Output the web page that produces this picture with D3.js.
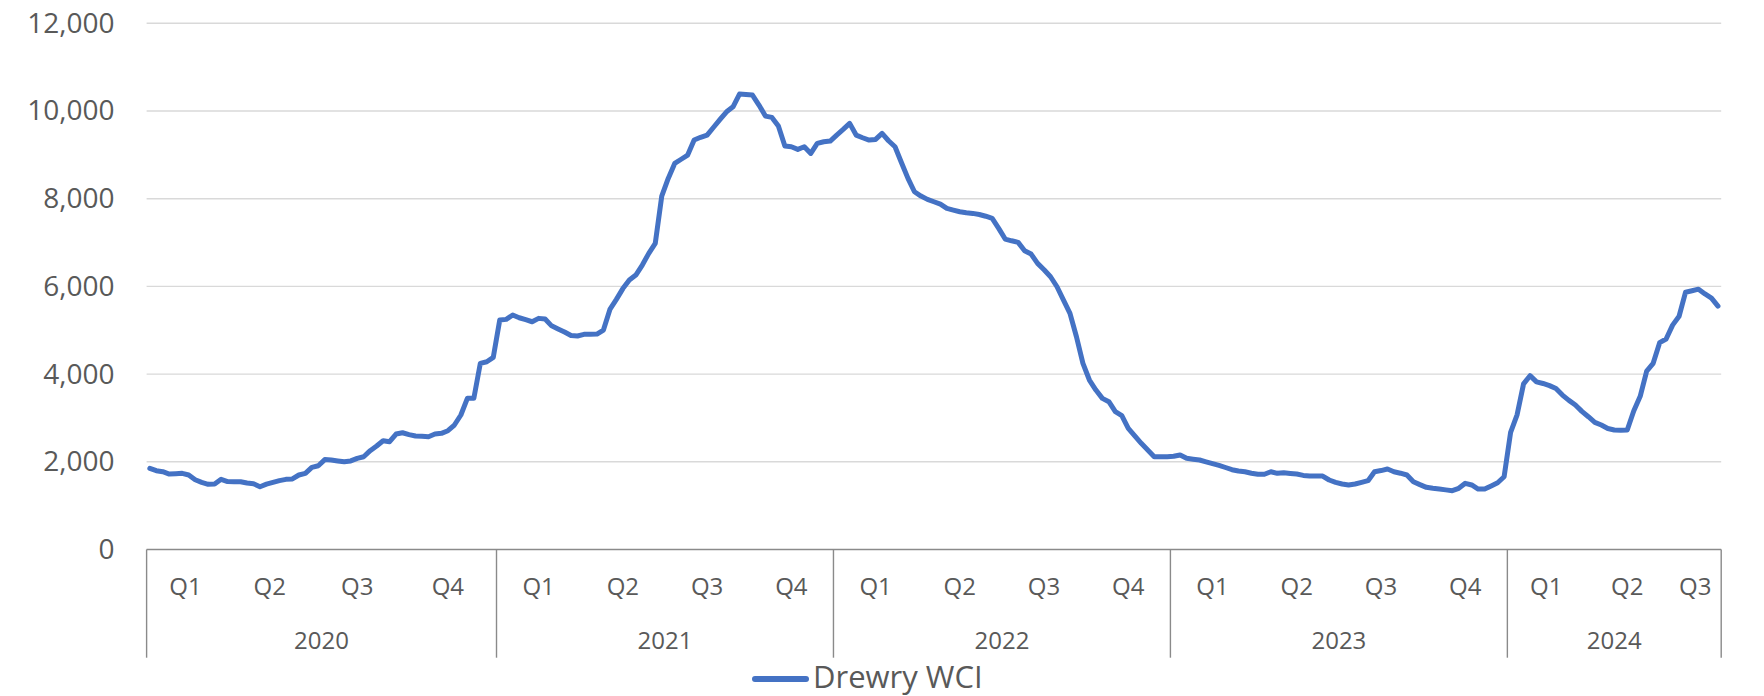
<!DOCTYPE html>
<html>
<head>
  <meta charset="utf-8">
  <title>Drewry WCI</title>
  <script src="https://d3js.org/d3.v7.min.js"></script>
  <style>
    body { margin: 0; background: #fff; }
    svg text { font-family: "Open Sans", sans-serif; fill: #595959; }
  </style>
</head>
<body>
  <div id="chart"></div>

  <script>
    // weekly Drewry WCI composite (USD / 40ft), one array per year
    var wci2020 = [1851, 1797, 1774, 1721, 1730, 1737, 1699, 1590, 1530, 1487, 1493, 1600, 1550, 1546, 1546, 1515, 1500, 1432, 1490, 1530,
                   1570, 1600, 1610, 1699, 1737, 1874, 1911, 2050, 2040, 2020, 2002, 2020, 2079, 2116, 2253, 2360, 2481, 2458, 2633, 2663,
                   2620, 2588, 2580, 2572, 2633, 2649, 2709, 2839, 3067, 3447, 3447, 4245, 4282, 4382];
    var wci2021 = [5233, 5248, 5347, 5285, 5240, 5194, 5271, 5255, 5100, 5030, 4960, 4880, 4870, 4906, 4908, 4913, 5005, 5476, 5704, 5950,
                   6145, 6259, 6487, 6753, 6981, 8060, 8463, 8805, 8900, 8995, 9337, 9400, 9451, 9630, 9809, 9982, 10096, 10386, 10375, 10363,
                   10135, 9884, 9854, 9656, 9200, 9184, 9125, 9184, 9033, 9261, 9298, 9314];
    var wci2022 = [9451, 9580, 9717, 9451, 9390, 9337, 9352, 9489, 9321, 9184, 8820, 8463, 8158, 8060, 7985, 7930, 7877, 7779, 7740, 7702,
                   7680, 7665, 7640, 7600, 7551, 7323, 7080, 7040, 7004, 6813, 6737, 6525, 6380, 6220, 5992, 5689, 5385, 4852, 4245, 3865,
                   3637, 3447, 3370, 3142, 3051, 2763, 2590, 2421, 2269, 2116, 2116, 2116];
    var wci2023 = [2125, 2155, 2079, 2060, 2041, 2000, 1960, 1920, 1870, 1820, 1790, 1774, 1740, 1715, 1715, 1774, 1737, 1751, 1735, 1721,
                   1690, 1676, 1676, 1676, 1585, 1530, 1493, 1471, 1493, 1530, 1569, 1774, 1800, 1835, 1774, 1740, 1699, 1546, 1480, 1418,
                   1395, 1379, 1360, 1341, 1395, 1509, 1471, 1379, 1379, 1450, 1523, 1660];
    var wci2024 = [2670, 3072, 3777, 3964, 3824, 3786, 3737, 3670, 3522, 3400, 3295, 3150, 3028, 2900, 2839, 2760, 2725, 2722, 2726, 3159,
                   3493, 4070, 4245, 4716, 4801, 5117, 5319, 5868, 5901, 5937, 5828, 5734, 5551];

    var years = ["2020", "2021", "2022", "2023", "2024"];
    var quarterNames = ["Q1", "Q2", "Q3", "Q4"];
    // number of weekly points under each quarter label
    var quarterCounts = [[12, 14, 13, 15], [13, 13, 13, 13], [13, 13, 13, 13], [13, 13, 13, 13], [12, 13, 8]];
    var yTicks = [0, 2000, 4000, 6000, 8000, 10000, 12000];
    var seriesName = "Drewry WCI";

    var width = 1764, height = 696;
    var margin = {top: 23.3, right: 42.8, bottom: 146.5, left: 146.6};
    var values = [].concat(wci2020, wci2021, wci2022, wci2023, wci2024);

    var svg = d3.select("#chart")
      .append("svg")
        .attr("width", width)
        .attr("height", height);

    var x = d3.scaleBand()
      .domain(d3.range(values.length))
      .range([margin.left, width - margin.right])
      .padding(0);
    var bw = x.bandwidth();
    var y = d3.scaleLinear()
      .domain([0, 12000])
      .range([height - margin.bottom, margin.top]);

    // gridlines
    svg.append("g")
      .selectAll("line")
      .data(yTicks.filter(function(d) { return d > 0; }))
      .enter()
      .append("line")
        .attr("x1", margin.left)
        .attr("x2", width - margin.right)
        .attr("y1", function(d) { return y(d); })
        .attr("y2", function(d) { return y(d); })
        .attr("stroke", "#d9d9d9")
        .attr("stroke-width", 1.4);

    // value labels
    var yAxis = svg.append("g")
      .attr("transform", "translate(" + margin.left + ",0)")
      .call(d3.axisLeft(y).tickValues(yTicks).tickFormat(d3.format(",")).tickSize(0).tickPadding(32));
    yAxis.select(".domain").remove();
    yAxis.selectAll("text").style("font-size", "28px");

    // grouped category axis: quarters then years
    var quarterGroups = [], yearGroups = [];
    var start = 0;
    years.forEach(function(yr, k) {
      var yearStart = start;
      quarterCounts[k].forEach(function(n, q) {
        quarterGroups.push({label: quarterNames[q], first: start, last: start + n - 1});
        start += n;
      });
      yearGroups.push({label: yr, first: yearStart, last: start - 1});
    });
    var mid = function(g) { return (x(g.first) + x(g.last) + bw) / 2; };

    var y0 = y(0), sepBottom = 657.7;
    var axisColor = "#8a8a8a";

    svg.append("line")
      .attr("x1", margin.left)
      .attr("x2", width - margin.right)
      .attr("y1", y0)
      .attr("y2", y0)
      .attr("stroke", axisColor)
      .attr("stroke-width", 1.4);

    var seps = yearGroups.map(function(g) { return x(g.first); });
    seps.push(width - margin.right);
    svg.append("g")
      .selectAll("line")
      .data(seps)
      .enter()
      .append("line")
        .attr("x1", function(d) { return d; })
        .attr("x2", function(d) { return d; })
        .attr("y1", y0)
        .attr("y2", sepBottom)
        .attr("stroke", axisColor)
        .attr("stroke-width", 1.4);

    svg.append("g")
      .selectAll("text")
      .data(quarterGroups)
      .enter()
      .append("text")
        .attr("x", mid)
        .attr("y", 594.5)
        .attr("text-anchor", "middle")
        .style("font-size", "24px")
        .text(function(d) { return d.label; });

    svg.append("g")
      .selectAll("text")
      .data(yearGroups)
      .enter()
      .append("text")
        .attr("x", mid)
        .attr("y", 649.3)
        .attr("text-anchor", "middle")
        .style("font-size", "24px")
        .text(function(d) { return d.label; });

    // the series
    var line = d3.line()
      .x(function(d, i) { return x(i) + bw / 2; })
      .y(function(d) { return y(d); });

    svg.append("path")
      .datum(values)
      .attr("d", line)
      .attr("fill", "none")
      .attr("stroke", "#4472C4")
      .attr("stroke-width", 5)
      .attr("stroke-linejoin", "round")
      .attr("stroke-linecap", "round");

    // legend
    var legend = svg.append("g");
    legend.append("line")
      .attr("x1", 755)
      .attr("x2", 806)
      .attr("y1", 679)
      .attr("y2", 679)
      .attr("stroke", "#4472C4")
      .attr("stroke-width", 6)
      .attr("stroke-linecap", "round");
    legend.append("text")
      .attr("x", 813)
      .attr("y", 688)
      .style("font-size", "31px")
      .text(seriesName);
  </script>
</body>
</html>
